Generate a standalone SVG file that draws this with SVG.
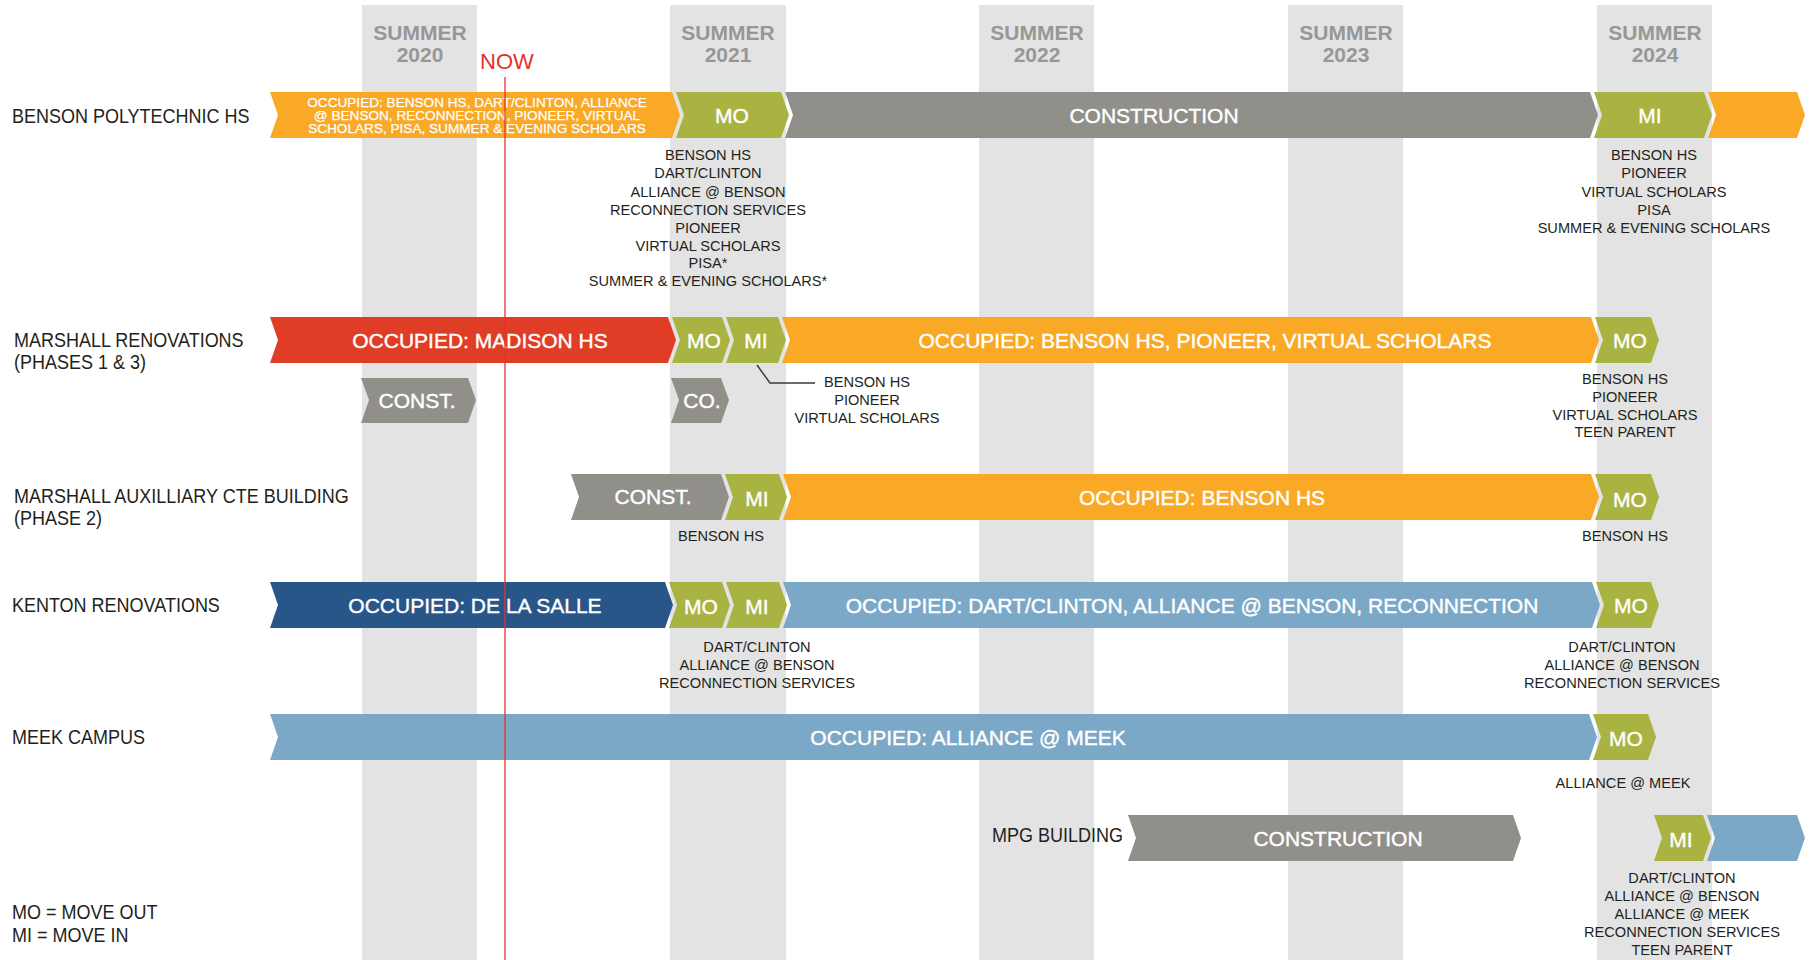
<svg xmlns="http://www.w3.org/2000/svg" width="1812" height="960" viewBox="0 0 1812 960">
<style>
.band{fill:#e3e3e3}
.hd{font-family:"Liberation Sans",Arial,sans-serif;font-size:21px;font-weight:bold;fill:#979797;text-anchor:middle}
.lbl{font-family:"Liberation Sans",Arial,sans-serif;font-size:20px;fill:#231f20}
.lst{font-family:"Liberation Sans",Arial,sans-serif;font-size:14.6px;fill:#231f20;text-anchor:middle}
.bt{font-family:"Liberation Sans",Arial,sans-serif;font-size:21px;fill:#fff;text-anchor:middle;stroke:#fff;stroke-width:0.4}
.bs{font-family:"Liberation Sans",Arial,sans-serif;font-size:13.6px;fill:#fff;text-anchor:middle;stroke:#fff;stroke-width:0.25}
.or{fill:#f9a926}.gr{fill:#a9b341}.gy{fill:#918f8a}.rd{fill:#e03d26}.db{fill:#285688}.lb{fill:#7ca8c8}
</style>
<rect width="1812" height="960" fill="#fff"/>
<g id="timeline">
<rect class="band" x="362" y="5" width="115" height="955"/>
<rect class="band" x="670" y="5" width="116" height="955"/>
<rect class="band" x="979" y="5" width="115" height="955"/>
<rect class="band" x="1288" y="5" width="115" height="955"/>
<rect class="band" x="1597" y="5" width="115" height="955"/>
<text class="hd" x="420" y="40">SUMMER</text><text class="hd" x="420" y="62">2020</text>
<text class="hd" x="728" y="40">SUMMER</text><text class="hd" x="728" y="62">2021</text>
<text class="hd" x="1037" y="40">SUMMER</text><text class="hd" x="1037" y="62">2022</text>
<text class="hd" x="1346" y="40">SUMMER</text><text class="hd" x="1346" y="62">2023</text>
<text class="hd" x="1655" y="40">SUMMER</text><text class="hd" x="1655" y="62">2024</text>
</g>
<g id="now">
<text x="507" y="69" font-family="Liberation Sans,Arial,sans-serif" font-size="22" fill="#e5322b" text-anchor="middle">NOW</text>
</g>
<g id="row-benson">
<text class="lbl" x="13.3" y="123" transform="scale(0.9 1)">BENSON POLYTECHNIC HS</text>
<polygon class="or" points="270,92 672,92 680,115 672,138 270,138 278,115"/>
<text class="bs" x="477" y="107">OCCUPIED: BENSON HS, DART/CLINTON, ALLIANCE</text>
<text class="bs" x="477" y="120">@ BENSON, RECONNECTION, PIONEER, VIRTUAL</text>
<text class="bs" x="477" y="133">SCHOLARS, PISA, SUMMER &amp; EVENING SCHOLARS</text>
<polygon class="gr" points="676,92 781,92 789,115 781,138 676,138 684,115"/>
<text class="bt" x="732" y="123">MO</text>
<polygon class="gy" points="785,92 1590,92 1598,115 1590,138 785,138 793,115"/>
<text class="bt" x="1154" y="123">CONSTRUCTION</text>
<polygon class="gr" points="1594,92 1704,92 1712,115 1704,138 1594,138 1602,115"/>
<text class="bt" x="1650" y="123">MI</text>
<polygon class="or" points="1708,92 1797,92 1805,115 1797,138 1708,138 1716,115"/>
<text class="lst" x="708" y="160">BENSON HS</text>
<text class="lst" x="708" y="178">DART/CLINTON</text>
<text class="lst" x="708" y="197">ALLIANCE @ BENSON</text>
<text class="lst" x="708" y="215">RECONNECTION SERVICES</text>
<text class="lst" x="708" y="233">PIONEER</text>
<text class="lst" x="708" y="251">VIRTUAL SCHOLARS</text>
<text class="lst" x="708" y="268">PISA*</text>
<text class="lst" x="708" y="286">SUMMER &amp; EVENING SCHOLARS*</text>
<text class="lst" x="1654" y="160">BENSON HS</text>
<text class="lst" x="1654" y="178">PIONEER</text>
<text class="lst" x="1654" y="197">VIRTUAL SCHOLARS</text>
<text class="lst" x="1654" y="215">PISA</text>
<text class="lst" x="1654" y="233">SUMMER &amp; EVENING SCHOLARS</text>
</g>
<g id="row-marshall">
<text class="lbl" x="15.6" y="347" transform="scale(0.9 1)">MARSHALL RENOVATIONS</text>
<text class="lbl" x="15.6" y="369" transform="scale(0.9 1)">(PHASES 1 &amp; 3)</text>
<polygon class="rd" points="270,317 668,317 676,340 668,363 270,363 278,340"/>
<text class="bt" x="480" y="348">OCCUPIED: MADISON HS</text>
<polygon class="gr" points="672,317 722,317 730,340 722,363 672,363 680,340"/>
<text class="bt" x="704" y="348">MO</text>
<polygon class="gr" points="726,317 778,317 786,340 778,363 726,363 734,340"/>
<text class="bt" x="756" y="348">MI</text>
<polygon class="or" points="782,317 1591,317 1599,340 1591,363 782,363 790,340"/>
<text class="bt" x="1205" y="348">OCCUPIED: BENSON HS, PIONEER, VIRTUAL SCHOLARS</text>
<polygon class="gr" points="1595,317 1651,317 1659,340 1651,363 1595,363 1603,340"/>
<text class="bt" x="1630" y="348">MO</text>
<polygon class="gy" points="361,378 468,378 476,400 468,423 361,423 369,400"/>
<text class="bt" x="417" y="408">CONST.</text>
<polygon class="gy" points="671,378 721,378 729,400 721,423 671,423 679,400"/>
<text class="bt" x="702" y="408">CO.</text>
<text class="lst" x="867" y="387">BENSON HS</text>
<text class="lst" x="867" y="405">PIONEER</text>
<text class="lst" x="867" y="423">VIRTUAL SCHOLARS</text>
<text class="lst" x="1625" y="384">BENSON HS</text>
<text class="lst" x="1625" y="402">PIONEER</text>
<text class="lst" x="1625" y="420">VIRTUAL SCHOLARS</text>
<text class="lst" x="1625" y="437">TEEN PARENT</text>
</g>
<g id="row-aux">
<text class="lbl" x="15.6" y="503" transform="scale(0.9 1)">MARSHALL AUXILLIARY CTE BUILDING</text>
<text class="lbl" x="15.6" y="525" transform="scale(0.9 1)">(PHASE 2)</text>
<polygon class="gy" points="571,474 721,474 729,497 721,520 571,520 579,497"/>
<text class="bt" x="653" y="504">CONST.</text>
<polygon class="gr" points="725,474 779,474 787,497 779,520 725,520 733,497"/>
<text class="bt" x="757" y="506">MI</text>
<polygon class="or" points="783,474 1591,474 1599,497 1591,520 783,520 791,497"/>
<text class="bt" x="1202" y="505">OCCUPIED: BENSON HS</text>
<polygon class="gr" points="1595,474 1651,474 1659,497 1651,520 1595,520 1603,497"/>
<text class="bt" x="1630" y="507">MO</text>
<text class="lst" x="721" y="541">BENSON HS</text>
<text class="lst" x="1625" y="541">BENSON HS</text>
</g>
<g id="row-kenton">
<text class="lbl" x="13.3" y="612" transform="scale(0.9 1)">KENTON RENOVATIONS</text>
<polygon class="db" points="270,582 665,582 673,605 665,628 270,628 278,605"/>
<text class="bt" x="475" y="613">OCCUPIED: DE LA SALLE</text>
<polygon class="gr" points="669,582 722,582 730,605 722,628 669,628 677,605"/>
<text class="bt" x="701" y="614">MO</text>
<polygon class="gr" points="726,582 779,582 787,605 779,628 726,628 734,605"/>
<text class="bt" x="757" y="614">MI</text>
<polygon class="lb" points="783,582 1592,582 1600,605 1592,628 783,628 791,605"/>
<text class="bt" x="1192" y="613">OCCUPIED: DART/CLINTON, ALLIANCE @ BENSON, RECONNECTION</text>
<polygon class="gr" points="1596,582 1651,582 1659,605 1651,628 1596,628 1604,605"/>
<text class="bt" x="1631" y="613">MO</text>
<text class="lst" x="757" y="652">DART/CLINTON</text>
<text class="lst" x="757" y="670">ALLIANCE @ BENSON</text>
<text class="lst" x="757" y="688">RECONNECTION SERVICES</text>
<text class="lst" x="1622" y="652">DART/CLINTON</text>
<text class="lst" x="1622" y="670">ALLIANCE @ BENSON</text>
<text class="lst" x="1622" y="688">RECONNECTION SERVICES</text>
</g>
<g id="row-meek">
<text class="lbl" x="13.3" y="744" transform="scale(0.9 1)">MEEK CAMPUS</text>
<polygon class="lb" points="270,714 1589,714 1597,737 1589,760 270,760 278,737"/>
<text class="bt" x="968" y="745">OCCUPIED: ALLIANCE @ MEEK</text>
<polygon class="gr" points="1593,714 1648,714 1656,737 1648,760 1593,760 1601,737"/>
<text class="bt" x="1626" y="746">MO</text>
<text class="lst" x="1623" y="788">ALLIANCE @ MEEK</text>
</g>
<g id="row-mpg">
<text class="lbl" x="1247.8" y="842" text-anchor="end" transform="scale(0.9 1)">MPG BUILDING</text>
<polygon class="gy" points="1128,815 1513,815 1521,838 1513,861 1128,861 1136,838"/>
<text class="bt" x="1338" y="846">CONSTRUCTION</text>
<polygon class="gr" points="1654,815 1703,815 1711,838 1703,861 1654,861 1662,838"/>
<text class="bt" x="1681" y="847">MI</text>
<polygon class="lb" points="1707,815 1797,815 1805,838 1797,861 1707,861 1715,838"/>
<text class="lst" x="1682" y="883">DART/CLINTON</text>
<text class="lst" x="1682" y="901">ALLIANCE @ BENSON</text>
<text class="lst" x="1682" y="919">ALLIANCE @ MEEK</text>
<text class="lst" x="1682" y="937">RECONNECTION SERVICES</text>
<text class="lst" x="1682" y="955">TEEN PARENT</text>
</g>
<g id="legend">
<text class="lbl" x="13.3" y="919" transform="scale(0.9 1)">MO = MOVE OUT</text>
<text class="lbl" x="13.3" y="942" transform="scale(0.9 1)">MI = MOVE IN</text>
</g>
<g id="connectors" fill="none">
<line x1="505" y1="77" x2="505" y2="960" stroke="#e5322b" stroke-width="1.3"/>
<polyline points="757,365 770,383 815,383" stroke="#3a3a3a" stroke-width="1.5"/>
</g>
</svg>
